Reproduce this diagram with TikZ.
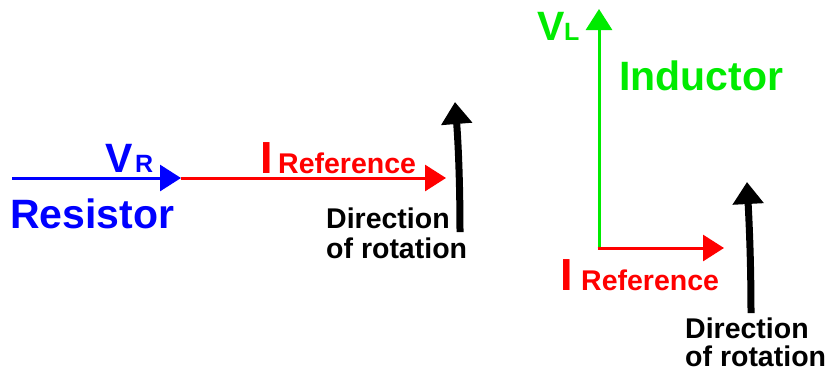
\documentclass[tikz,border=0pt]{standalone}
\usepackage{fontspec}
\setmainfont{Liberation Sans}
\usetikzlibrary{arrows.meta}
\definecolor{vblue}{RGB}{0,0,255}
\definecolor{ired}{RGB}{255,0,0}
\definecolor{vgreen}{RGB}{0,235,0}
\tikzset{
  lbl/.style={inner sep=0pt, anchor=base west},
  big/.style={lbl, font=\fontsize{41}{44}\selectfont\bfseries},
  bigi/.style={lbl, font=\fontsize{45}{48}\selectfont\bfseries},
  mid/.style={lbl, font=\fontsize{28.5}{31}\selectfont\bfseries},
  sub/.style={lbl, font=\fontsize{25}{27}\selectfont\bfseries},
  vec/.style={line width=3pt, -{Triangle[length=21pt,width=26pt]}},
  rot/.style={line width=7pt, black, -{Triangle[length=22pt,width=30pt]}},
}
\begin{document}
\begin{tikzpicture}[x=1pt,y=-1pt]
  \useasboundingbox (0,0) rectangle (828,376);

  % ---- resistor phasors ----
  \coordinate (rs) at (12,178);
  \coordinate (rv) at (181,178);
  \coordinate (ri) at (446,178);
  \draw[vec, vblue] (rs) -- (rv);
  \draw[vec, ired] (rv) -- (ri);
  \node[big, vblue] (vr) at (105,172) {V};
  \node[sub, vblue] (vrsub) at (135,172) {R};
  \node[big, vblue] (res) at (10,228) {Resistor};
  \node[bigi, ired] (ir) at (260,173) {I};
  \node[mid, ired] (irref) at (278,173) {Reference};

  % direction of rotation (left)
  \coordinate (rl0) at (460,232);
  \coordinate (rl1) at (455,102);
  \draw[rot] (rl0) .. controls (460,180) and (458,140) .. (rl1);
  \node[mid, align=left, anchor=north west] (dirl) at (326,208)
    {Direction\\[-1pt]of rotation};

  % ---- inductor phasors ----
  \coordinate (lo) at (599,248);
  \coordinate (lv) at (599,9);
  \coordinate (li) at (724,248);
  \draw[vec, vgreen] (lo) -- (lv);
  \draw[vec, ired] ([xshift=-1.5pt]lo) -- (li);
  \node[big, vgreen] (vl) at (537,40) {V};
  \node[sub, vgreen] (vlsub) at (564,40) {L};
  \node[big, vgreen] (ind) at (619,90) {Inductor};
  \node[bigi, ired] (il) at (560,290) {I};
  \node[mid, ired] (ilref) at (581,290) {Reference};

  % direction of rotation (right)
  \coordinate (rr0) at (751,313);
  \coordinate (rr1) at (747,182);
  \draw[rot] (rr0) .. controls (751,260) and (749,220) .. (rr1);
  \node[mid, align=left, anchor=north west] (dirr) at (685,318)
    {Direction\\[-3pt]of rotation};
\end{tikzpicture}
\end{document}
